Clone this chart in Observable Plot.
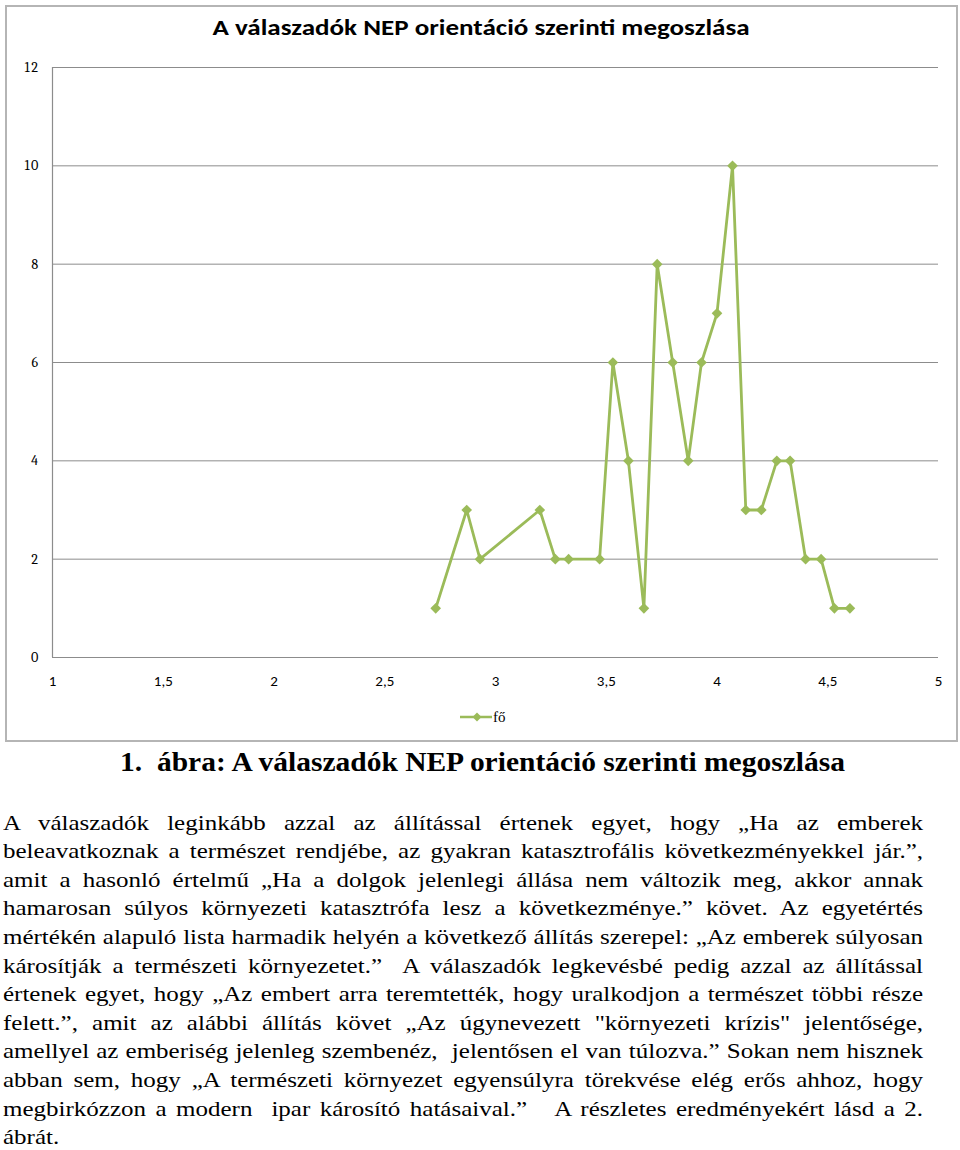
<!DOCTYPE html>
<html><head><meta charset="utf-8">
<script src="https://cdn.jsdelivr.net/npm/d3@7"></script>
<script src="https://cdn.jsdelivr.net/npm/@observablehq/plot@0.6"></script>
<style>
body{margin:0;width:960px;height:1150px;position:relative;background:#fff;overflow:hidden}
#frame{position:absolute;left:5px;top:5px;width:949px;height:733px;border:2px solid #b5b5b5;}
#title{position:absolute;left:0;top:11.5px;width:962px;text-align:center;font:bold 25.7px/30px Carlito,"Open Sans",sans-serif;color:#000;transform:scaleY(0.85)}
#chart{position:absolute;left:0;top:0}
#legend{position:absolute;top:710px;left:460px;font:15px/14px "Liberation Serif",serif;display:flex;align-items:center;gap:1px}
#caption{position:absolute;top:745px;left:0;width:965px;text-align:center;font:bold 29.6px/34px "Liberation Serif",serif;color:#000;transform:scaleY(0.9)}
#para{position:absolute;left:3px;top:808.6px;width:920px;font:25px/28.6px "Liberation Serif",serif;color:#000}
#para div{transform:scaleY(0.85)}
.l{text-align:justify;text-align-last:justify}
</style></head>
<body>
<div id="frame"></div>
<div id="title"><span>A válaszadók NEP orientáció szerinti megoszlása</span></div>
<div id="chart"></div>
<div id="legend"><svg width="32" height="12"><line x1="0" y1="6" x2="32" y2="6" stroke="#9bbb59" stroke-width="2.5"/><path d="M17,1.5L21.5,6L17,10.5L12.5,6Z" fill="#9bbb59"/></svg><span>fő</span></div>
<div id="caption"><span>1.&nbsp; ábra: A válaszadók NEP orientáció szerinti megoszlása</span></div>
<div id="para">
<div class="l">A válaszadók leginkább azzal az állítással értenek egyet, hogy „Ha az emberek</div>
<div class="l">beleavatkoznak a természet rendjébe, az gyakran katasztrofális következményekkel jár.”,</div>
<div class="l">amit a hasonló értelmű „Ha a dolgok jelenlegi állása nem változik meg, akkor annak</div>
<div class="l">hamarosan súlyos környezeti katasztrófa lesz a következménye.” követ. Az egyetértés</div>
<div class="l">mértékén alapuló lista harmadik helyén a következő állítás szerepel: „Az emberek súlyosan</div>
<div class="l">károsítják a természeti környezetet.”&nbsp; A válaszadók legkevésbé pedig azzal az állítással</div>
<div class="l">értenek egyet, hogy „Az embert arra teremtették, hogy uralkodjon a természet többi része</div>
<div class="l">felett.”, amit az alábbi állítás követ „Az úgynevezett "környezeti krízis" jelentősége,</div>
<div class="l">amellyel az emberiség jelenleg szembenéz,&nbsp; jelentősen el van túlozva.” Sokan nem hisznek</div>
<div class="l">abban sem, hogy „A természeti környezet egyensúlyra törekvése elég erős ahhoz, hogy</div>
<div class="l">megbirkózzon a modern&nbsp; ipar károsító hatásaival.”&nbsp;&nbsp; A részletes eredményekért lásd a 2.</div>
<div>ábrát.</div>
</div>
<script>
const scores = [2.73, 2.87, 2.93, 3.2, 3.27, 3.33, 3.47, 3.53, 3.6, 3.67, 3.73, 3.8, 3.87, 3.93, 4.0, 4.07, 4.13, 4.2, 4.27, 4.33, 4.4, 4.47, 4.53, 4.6];
const counts = [1, 3, 2, 3, 2, 2, 2, 6, 4, 1, 8, 6, 4, 6, 7, 10, 3, 3, 4, 4, 2, 2, 1, 1];
const xTicks = [1, 1.5, 2, 2.5, 3, 3.5, 4, 4.5, 5];
const yTicks = [0, 2, 4, 6, 8, 10, 12];
const seriesName = "fő";

const data = scores.map((s, i) => ({score: s, count: counts[i], series: seriesName}));
const green = "#9bbb59";
const gridColor = "#8c8c8c";

const chart = Plot.plot({
  width: 960, height: 700,
  marginTop: 67, marginLeft: 52, marginRight: 22, marginBottom: 43,
  x: {domain: [1, 5], label: null},
  y: {domain: [0, 12], label: null},
  style: {background: "transparent", fontFamily: "Carlito, sans-serif", fontSize: "15px", color: "#000"},
  marks: [
    Plot.gridY(yTicks.filter(d => d > 0), {stroke: gridColor, strokeOpacity: 1, strokeWidth: 1}),
    Plot.ruleY([0], {stroke: gridColor, strokeWidth: 1.2}),
    Plot.ruleX([1], {stroke: gridColor, strokeWidth: 1.2}),
    Plot.axisX({ticks: xTicks, tickSize: 0, tickPadding: 18, tickFormat: d => String(d).replace(".", ","), fontSize: 15, fontFamily: "Carlito, sans-serif"}),
    Plot.axisY({ticks: yTicks, tickSize: 0, tickPadding: 14, fontSize: 14, fontFamily: "Caladea, serif"}),
    Plot.line(data, {x: "score", y: "count", stroke: green, strokeWidth: 2.8}),
    Plot.dot(data, {x: "score", y: "count", symbol: "diamond2", fill: green, r: 4.8})
  ]
});
document.getElementById("chart").appendChild(chart);

// fit title and caption text widths to the reference widths
function fitWidth(id, target) {
  const el = document.getElementById(id);
  const span = el.querySelector("span");
  const fs = parseFloat(getComputedStyle(el).fontSize);
  const w = span.getBoundingClientRect().width;
  if (w > 0) el.style.fontSize = (fs * target / w) + "px";
}
document.fonts.ready.then(() => {
  fitWidth("title", 537);
  fitWidth("caption", 725);
  // keep justified lines on one line
  document.querySelectorAll("#para .l").forEach(d => {
    d.style.whiteSpace = "nowrap";
    const over = d.scrollWidth - d.clientWidth;
    if (over > 0) d.style.letterSpacing = (-(over + 2) / d.textContent.length) + "px";
    d.style.whiteSpace = "";
  });
});
</script>
</body></html>
